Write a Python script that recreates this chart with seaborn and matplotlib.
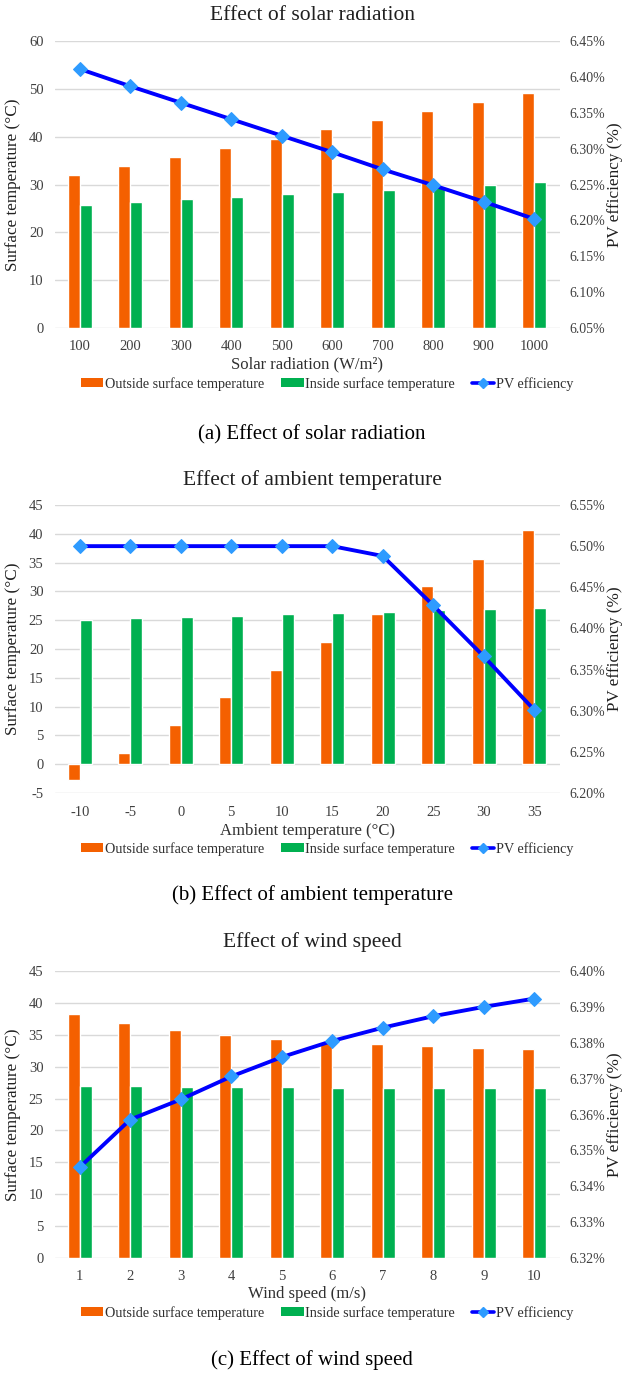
import numpy as np
import pandas as pd
import matplotlib
matplotlib.use("Agg")
import matplotlib.pyplot as plt
import seaborn as sns
from matplotlib.patches import Patch
from matplotlib.lines import Line2D

sns.set_theme(style="white")
plt.rcParams['font.family'] = ['Liberation Serif', 'DejaVu Serif']
plt.rcParams['axes.unicode_minus'] = False

# (a) solar radiation
solar_x = ["100", "200", "300", "400", "500", "600", "700", "800", "900", "1000"]
solar_out = [32.0, 33.9, 35.8, 37.7, 39.6, 41.5, 43.4, 45.4, 47.3, 49.2]
solar_in = [25.8, 26.3, 26.9, 27.4, 28.0, 28.5, 28.9, 29.5, 30.0, 30.5]
solar_pv = [6.411, 6.387, 6.364, 6.341, 6.318, 6.295, 6.271, 6.249, 6.226, 6.202]

# (b) ambient temperature
amb_x = ["-10", "-5", "0", "5", "10", "15", "20", "25", "30", "35"]
amb_out = [-2.8, 2.0, 6.8, 11.6, 16.4, 21.3, 26.1, 30.9, 35.7, 40.6]
amb_in = [25.0, 25.3, 25.5, 25.7, 26.0, 26.2, 26.4, 26.7, 26.9, 27.2]
amb_pv = [6.500, 6.500, 6.500, 6.500, 6.500, 6.500, 6.488, 6.428, 6.366, 6.301]

# (c) wind speed
wind_x = ["1", "2", "3", "4", "5", "6", "7", "8", "9", "10"]
wind_out = [38.2, 36.8, 35.8, 35.0, 34.4, 33.9, 33.6, 33.3, 33.0, 32.8]
wind_in = [27.0, 26.9, 26.8, 26.8, 26.8, 26.7, 26.7, 26.7, 26.7, 26.7]
wind_pv = [6.3453, 6.3586, 6.3642, 6.3706, 6.3760, 6.3805, 6.3842, 6.3874, 6.3900, 6.3923]

ORANGE = "#F46000"
GREEN = "#00B050"
BLUE = "#0000FF"
MARK = "#2E9BFF"
GRID = "#D9D9D9"
TXT = "#404040"

W, H = 623, 1373
fig = plt.figure(figsize=(W / 100, H / 100), dpi=100)

panels = [
    dict(title="Effect of solar radiation", x=solar_x, out=solar_out, inn=solar_in, pv=solar_pv,
         xlabel="Solar radiation (W/m²)", ylim=(0, 60), ystep=10, rlim=(6.05, 6.45), rstep=0.05,
         top=41, bottom=328, title_y=15, xlab_y=364, leg_y=384, cap_y=435,
         caption="(a) Effect of solar radiation"),
    dict(title="Effect of ambient temperature", x=amb_x, out=amb_out, inn=amb_in, pv=amb_pv,
         xlabel="Ambient temperature (°C)", ylim=(-5, 45), ystep=5, rlim=(6.20, 6.55), rstep=0.05,
         top=505, bottom=793, title_y=480, xlab_y=831, leg_y=849, cap_y=895,
         caption="(b) Effect of ambient temperature"),
    dict(title="Effect of wind speed", x=wind_x, out=wind_out, inn=wind_in, pv=wind_pv,
         xlabel="Wind speed (m/s)", ylim=(0, 45), ystep=5, rlim=(6.32, 6.40), rstep=0.01,
         top=971, bottom=1258, title_y=942, xlab_y=1294, leg_y=1313, cap_y=1360,
         caption="(c) Effect of wind speed"),
]

left_px, right_px = 54.5, 559.5
aw = right_px - left_px
mid = 0.5 * (left_px + right_px)

for p in panels:
    ax = fig.add_axes([left_px / W, 1 - p["bottom"] / H, aw / W,
                       (p["bottom"] - p["top"]) / H])
    df = pd.DataFrame({
        "x": p["x"] * 2,
        "value": p["out"] + p["inn"],
        "series": ["Outside surface temperature"] * 10 + ["Inside surface temperature"] * 10,
    })
    sns.barplot(data=df, x="x", y="value", hue="series", order=p["x"],
                hue_order=["Outside surface temperature", "Inside surface temperature"],
                palette=[ORANGE, GREEN], saturation=1, width=0.47, gap=0,
                legend=False, ax=ax, zorder=2)
    ax.set_xlim(-0.5, 9.5)
    ax.set_ylim(*p["ylim"])
    ax.set_yticks(np.arange(p["ylim"][0], p["ylim"][1] + 0.01, p["ystep"]))
    ax.yaxis.grid(True, color=GRID, linewidth=1.0, zorder=0)
    ax.set_axisbelow(True)
    for s in ax.spines.values():
        s.set_visible(False)
    ax.tick_params(axis="both", length=0, labelsize=10.5, colors=TXT)
    ax.tick_params(axis="x", pad=9)
    ax.tick_params(axis="y", pad=8)
    ax.set_xlabel("")
    ax.set_ylabel("")

    ax2 = ax.twinx()
    sns.lineplot(x=np.arange(10), y=p["pv"], ax=ax2, color=BLUE, linewidth=2.8,
                 marker="D", markersize=7, markerfacecolor=MARK, markeredgecolor=MARK)
    ax2.set_ylim(*p["rlim"])
    ax2.set_yticks(np.arange(p["rlim"][0], p["rlim"][1] + 1e-9, p["rstep"]))
    ax2.set_yticklabels([f"{v:.2f}%" for v in ax2.get_yticks()])
    ax2.tick_params(axis="y", length=0, labelsize=10, colors=TXT, pad=7)
    ax2.grid(False)
    for s in ax2.spines.values():
        s.set_visible(False)
    ax2.set_ylabel("")
    ax2.set_xlim(-0.5, 9.5)

    yc = 1 - 0.5 * (p["top"] + p["bottom"]) / H
    fig.text(13 / W, yc, "Surface temperature (°C)", rotation=90, ha="center", va="center",
             fontsize=12.3, color="#202020")
    fig.text(615 / W, yc, "PV efficiency (%)", rotation=90, ha="center", va="center",
             fontsize=12.3, color="#202020")

    fig.text(312 / W, 1 - p["title_y"] / H, p["title"],
             ha="center", va="center", fontsize=15.5, color="#202020")
    fig.text(mid / W, 1 - p["xlab_y"] / H, p["xlabel"],
             ha="center", va="center", fontsize=12, color="#303030")
    fig.text(312 / W, 1 - p["cap_y"] / H, p["caption"], ha="center", va="center",
             fontsize=15, color="black")

    handles = [
        Patch(facecolor=ORANGE, edgecolor="none"),
        Patch(facecolor=GREEN, edgecolor="none"),
        Line2D([0], [0], color=BLUE, linewidth=2.6, marker="D", markersize=5,
               markerfacecolor=MARK, markeredgecolor=MARK),
    ]
    fig.legend(handles, ["Outside surface temperature", "Inside surface temperature", "PV efficiency"],
               loc="center", bbox_to_anchor=(327 / W, 1 - p["leg_y"] / H), ncol=3, frameon=False,
               fontsize=10.2, handlelength=1.6, handleheight=0.6, handletextpad=0.1,
               columnspacing=1.2, labelcolor="#303030")

fig.savefig("out.png", dpi=100)
